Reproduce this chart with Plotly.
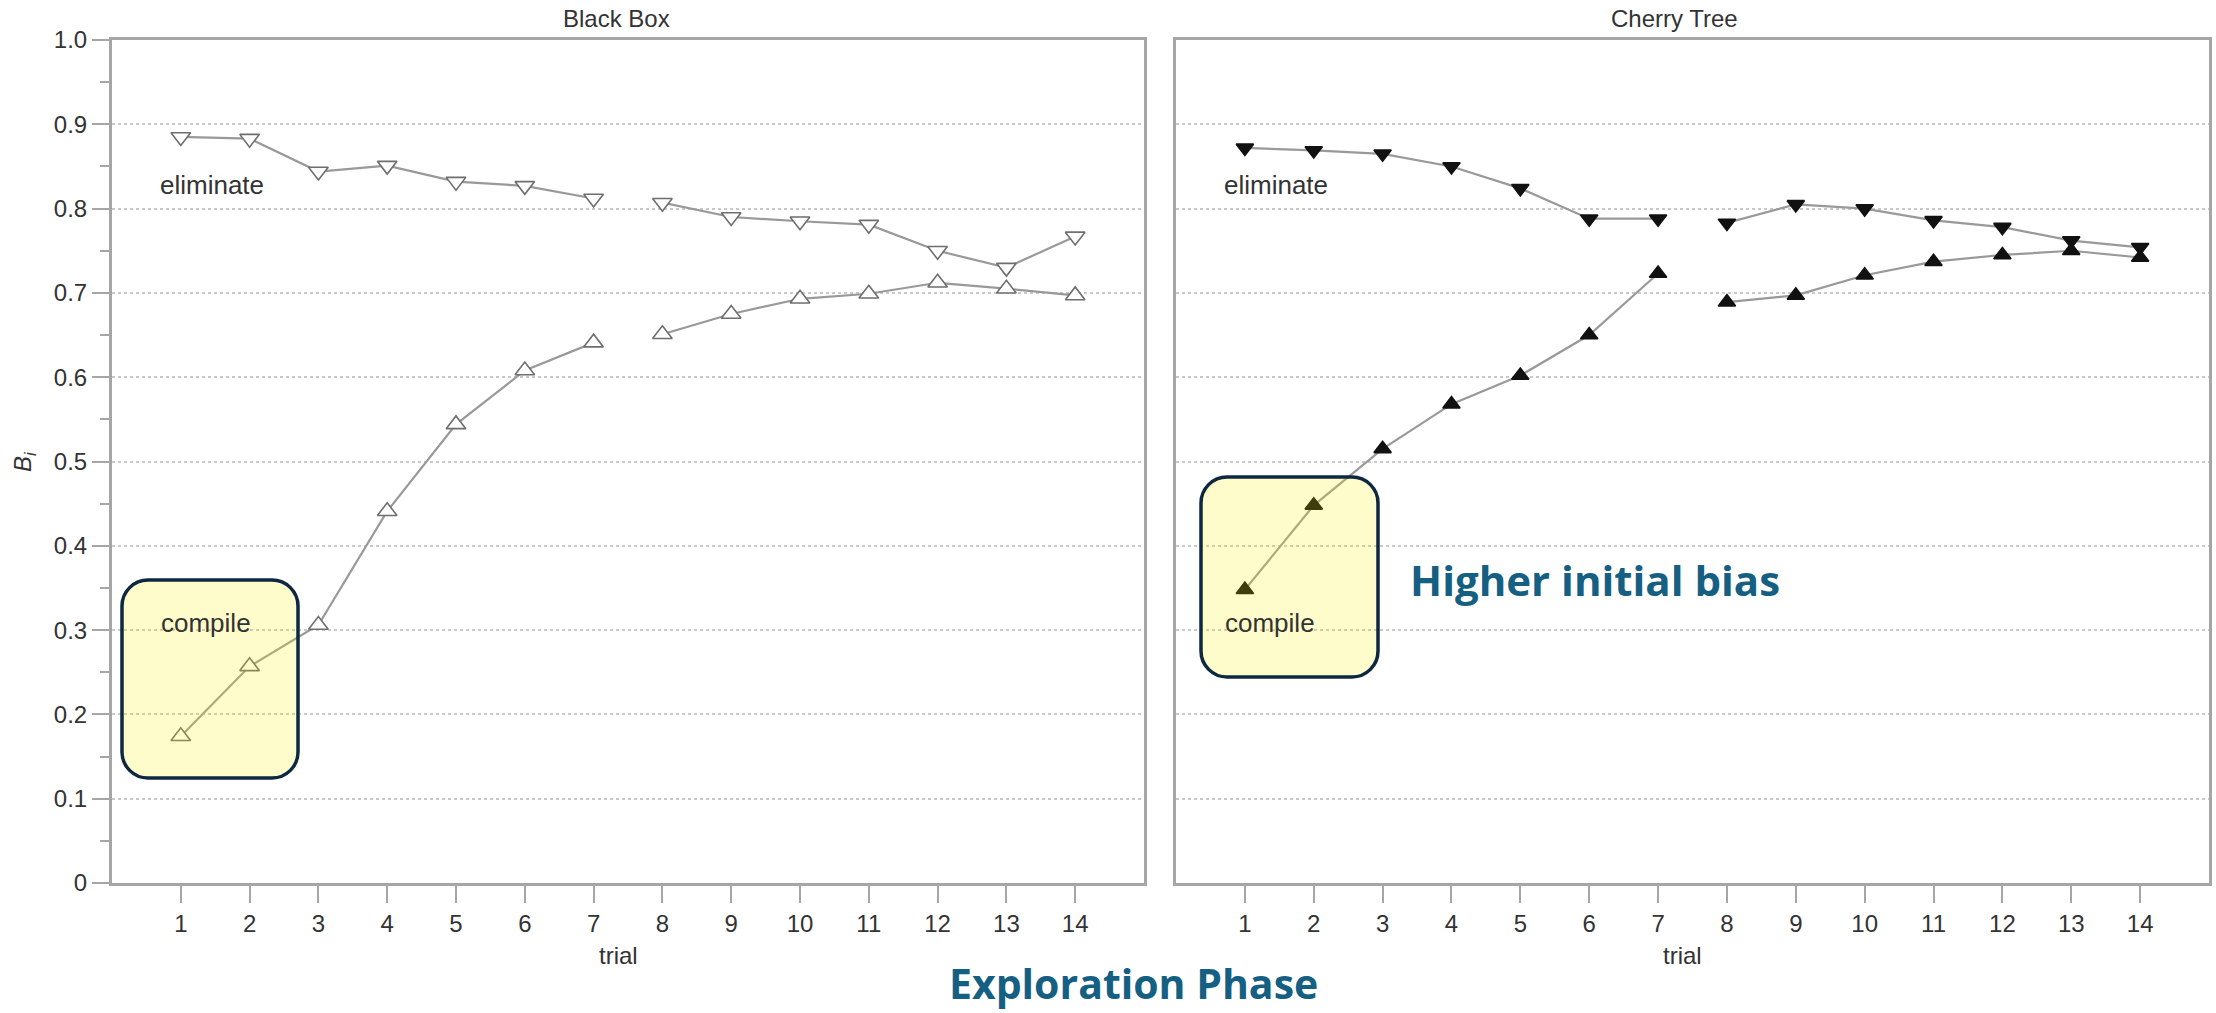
import plotly.graph_objects as go

W, H = 2216, 1013

trials = list(range(1, 15))

bb_eliminate = [0.885, 0.883, 0.844, 0.851, 0.832, 0.827, 0.812,
                0.807, 0.790, 0.785, 0.781, 0.750, 0.730, 0.767]
bb_compile = [0.174, 0.257, 0.306, 0.441, 0.544, 0.608, 0.641,
              0.651, 0.675, 0.693, 0.699, 0.712, 0.705, 0.697]
ct_eliminate = [0.872, 0.869, 0.865, 0.850, 0.824, 0.788, 0.788,
                0.783, 0.805, 0.800, 0.786, 0.778, 0.762, 0.754]
ct_compile = [0.348, 0.448, 0.515, 0.568, 0.602, 0.650, 0.723,
              0.689, 0.697, 0.721, 0.737, 0.745, 0.750, 0.742]

panel_titles = ["Black Box", "Cherry Tree"]
y_tickvals = [0, 0.1, 0.2, 0.3, 0.4, 0.5, 0.6, 0.7, 0.8, 0.9, 1.0]
y_ticktext = ["0", "0.1", "0.2", "0.3", "0.4", "0.5", "0.6", "0.7", "0.8", "0.9", "1.0"]
y_minor = [0.05, 0.15, 0.25, 0.35, 0.45, 0.55, 0.65, 0.75, 0.85, 0.95]

# layout in pixels
def px_x(p):
    return p / W

def px_y(p):
    return (H - p) / H

left_dom = [px_x(112), px_x(1144)]
right_dom = [px_x(1176), px_x(2209)]
y_dom = [px_y(883), px_y(40)]

FONT = "Liberation Sans, Arial, sans-serif"
LINE_C = "#999999"
AXIS_C = "#a6a6a6"

fig = go.Figure()

def add_series(xa, ya, vals, symbol, mcolor, mline, msize, name):
    segs = [(0, 7), (7, 14)]
    for a, b in segs:
        fig.add_trace(go.Scatter(
            x=trials[a:b], y=vals[a:b], xaxis=xa, yaxis=ya,
            mode="lines+markers", name=name, showlegend=False,
            line=dict(color=LINE_C, width=2.2),
            marker=dict(symbol=symbol, size=msize, color=mcolor,
                        line=dict(color=mline, width=1.6)),
        ))

add_series("x", "y", bb_eliminate, "triangle-down", "white", "#6e6e6e", 17, "eliminate")
add_series("x", "y", bb_compile, "triangle-up", "white", "#6e6e6e", 17, "compile")
add_series("x2", "y2", ct_eliminate, "triangle-down", "#111111", "#111111", 15, "eliminate")
add_series("x2", "y2", ct_compile, "triangle-up", "#111111", "#111111", 15, "compile")

common_x = dict(range=[0, 15], tickmode="array", tickvals=trials,
                ticks="outside", ticklen=17, tickwidth=2, tickcolor=AXIS_C,
                showline=True, linecolor=AXIS_C, linewidth=3, mirror=True,
                showgrid=False, zeroline=False, automargin=False,
                tickfont=dict(family=FONT, size=24, color="#333333"))
common_y = dict(range=[0, 1], tickmode="array", tickvals=y_tickvals,
                showline=True, linecolor=AXIS_C, linewidth=3, mirror=True,
                showgrid=True, gridcolor="#c9c9c9", gridwidth=2, griddash="dot",
                zeroline=False, domain=y_dom, automargin=False)

fig.update_layout(
    width=W, height=H,
    margin=dict(l=0, r=0, t=0, b=0, autoexpand=False),
    paper_bgcolor="white", plot_bgcolor="white",
    showlegend=False,
    xaxis=dict(domain=left_dom, anchor="y", **common_x),
    xaxis2=dict(domain=right_dom, anchor="y2", **common_x),
    yaxis=dict(anchor="x", ticktext=y_ticktext, ticks="outside", ticklen=17,
               tickwidth=2, tickcolor=AXIS_C,
               tickfont=dict(family=FONT, size=24, color="#333333"),
               minor=dict(tickmode="array", tickvals=y_minor, ticks="outside",
                          ticklen=9, tickwidth=2, tickcolor=AXIS_C, showgrid=False),
               **common_y),
    yaxis2=dict(anchor="x2", showticklabels=False, ticks="", **common_y),
)

def paper_text(text, x, y, size, color="#333333", family=FONT, xanchor="center", angle=0):
    return dict(text=text, x=px_x(x), y=px_y(y), xref="paper", yref="paper",
                xanchor=xanchor, yanchor="middle", textangle=angle, showarrow=False,
                font=dict(family=family, size=size, color=color))

annotations = [
    paper_text(panel_titles[0], 616, 18, 24),
    paper_text(panel_titles[1], 1674, 18, 24),
    paper_text("trial", 618, 955, 24),
    paper_text("trial", 1682, 955, 24),
    paper_text("<i>B<sub>i</sub></i>", 24, 462, 24, angle=-90),
    paper_text("<b>Higher initial bias</b>", 1408, 580, 42, color="#156082",
               family="Open Sans, sans-serif", xanchor="left"),
    paper_text("<b>Exploration Phase</b>", 1134, 983, 41, color="#156082",
               family="Open Sans, sans-serif"),
]
for xr, yr in (("x", "y"), ("x2", "y2")):
    annotations.append(dict(text="eliminate", x=1.45, y=0.828, xref=xr, yref=yr, showarrow=False,
                            xanchor="center", yanchor="middle",
                            font=dict(family=FONT, size=26, color="#333333")))
    annotations.append(dict(text="compile", x=1.37, y=0.308, xref=xr, yref=yr, showarrow=False,
                            xanchor="center", yanchor="middle",
                            font=dict(family=FONT, size=26, color="#333333")))
fig.update_layout(annotations=annotations)

def rounded_rect(hw, hh, r):
    k = 0.5523 * r
    return (f"M {-hw + r},{-hh} L {hw - r},{-hh} "
            f"C {hw - r + k},{-hh} {hw},{-hh + r - k} {hw},{-hh + r} "
            f"L {hw},{hh - r} "
            f"C {hw},{hh - r + k} {hw - r + k},{hh} {hw - r},{hh} "
            f"L {-hw + r},{hh} "
            f"C {-hw + r - k},{hh} {-hw},{hh - r + k} {-hw},{hh - r} "
            f"L {-hw},{-hh + r} "
            f"C {-hw},{-hh + r - k} {-hw + r - k},{-hh} {-hw + r},{-hh} Z")

boxes = [((122 + 298) / 2, (580 + 778) / 2, 88, 99),
         ((1201 + 1378) / 2, (477 + 677) / 2, 88.5, 100)]
shapes = []
for cx, cy, hw, hh in boxes:
    shapes.append(dict(type="path", xref="paper", yref="paper",
                       xsizemode="pixel", ysizemode="pixel",
                       xanchor=px_x(cx), yanchor=px_y(cy),
                       path=rounded_rect(hw, hh, 26),
                       fillcolor="rgba(255,240,0,0.2)",
                       line=dict(color="#0E2841", width=3.5), layer="above"))
fig.update_layout(shapes=shapes)

fig.write_html("out.html")
